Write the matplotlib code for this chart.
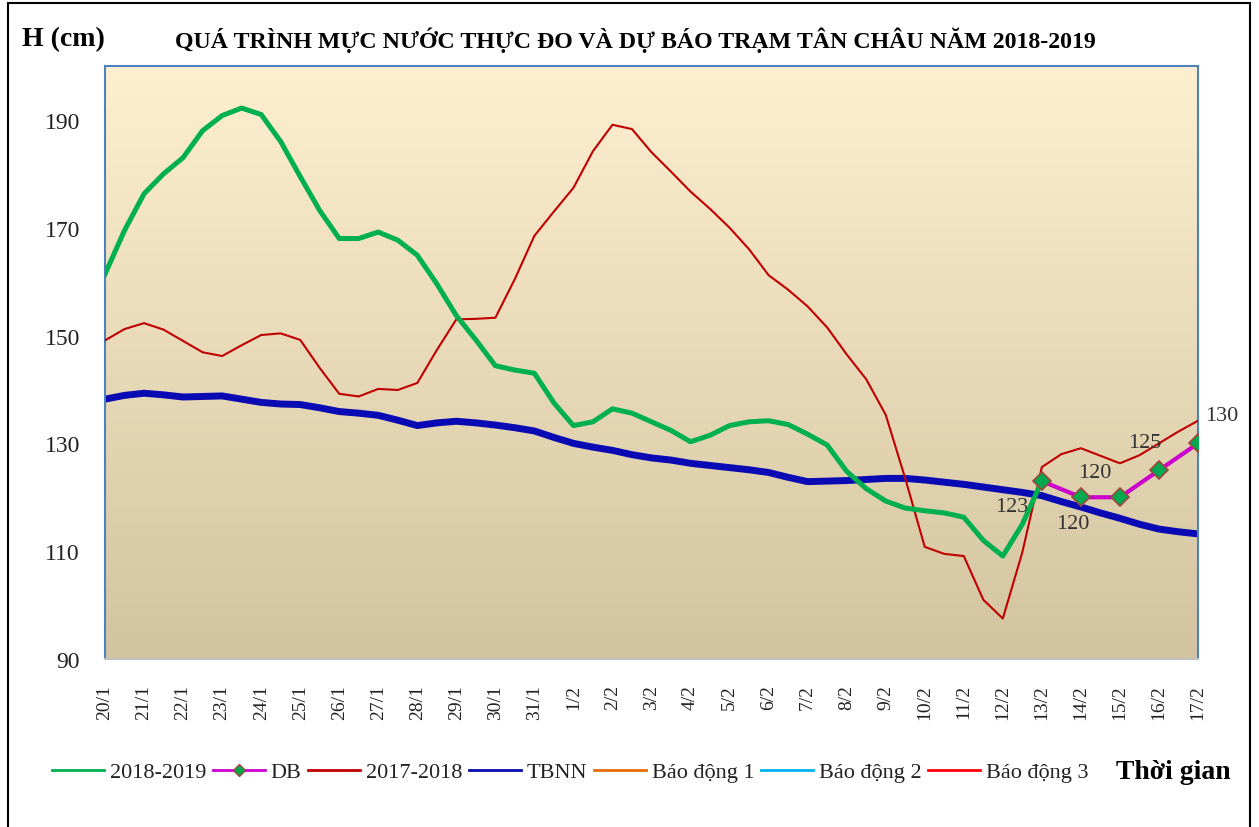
import numpy as np
import matplotlib
matplotlib.use('Agg')
from matplotlib import pyplot as plt
from matplotlib.patches import Rectangle
from matplotlib.lines import Line2D

plt.rcParams['font.family'] = ['Liberation Serif', 'DejaVu Serif']

# tick labels (one per day)
days = ['20/1', '21/1', '22/1', '23/1', '24/1', '25/1', '26/1', '27/1', '28/1', '29/1',
        '30/1', '31/1', '1/2', '2/2', '3/2', '4/2', '5/2', '6/2', '7/2', '8/2',
        '9/2', '10/2', '11/2', '12/2', '13/2', '14/2', '15/2', '16/2', '17/2']

# water levels read twice per day (cm)
h_2018_2019 = [161.4, 169.5, 176.3, 180.0, 183.0, 188.0, 190.8, 192.2, 191.0, 186.0,
               179.5, 173.2, 168.0, 168.0, 169.2, 167.7, 164.9, 159.6, 153.7, 149.2,
               144.4, 143.6, 143.0, 137.5, 133.3, 134.0, 136.4, 135.6, 134.0, 132.4,
               130.3, 131.5, 133.3, 134.0, 134.2, 133.5, 131.7, 129.7, 124.8, 121.6,
               119.3, 118.0, 117.5, 117.1, 116.3, 112.0, 109.1, 115.0, 123.0]

h_2017_2018 = [149.1, 151.2, 152.3, 151.1, 149.0, 146.9, 146.2, 148.2, 150.1, 150.4,
               149.2, 144.0, 139.2, 138.7, 140.1, 139.9, 141.2, 147.3, 153.0, 153.1,
               153.3, 160.5, 168.5, 173.0, 177.4, 184.2, 189.1, 188.3, 184.0, 180.4,
               176.7, 173.5, 170.0, 166.0, 161.2, 158.5, 155.4, 151.5, 146.5, 141.9,
               135.3, 123.5, 110.8, 109.5, 109.1, 101.0, 97.5, 109.8, 125.6, 128.0,
               129.1, 127.7, 126.3, 127.8, 130.0, 132.2, 134.2]

h_tbnn = [138.2, 138.9, 139.3, 139.0, 138.6, 138.7, 138.8, 138.2, 137.6, 137.3,
          137.2, 136.6, 135.9, 135.6, 135.2, 134.3, 133.3, 133.8, 134.1, 133.8,
          133.4, 132.9, 132.3, 131.1, 130.0, 129.3, 128.7, 127.9, 127.3, 126.9,
          126.3, 125.9, 125.5, 125.1, 124.6, 123.7, 122.9, 123.0, 123.1, 123.3,
          123.5, 123.5, 123.2, 122.8, 122.4, 121.9, 121.4, 120.9, 120.3, 119.2,
          118.2, 117.1, 116.1, 115.0, 114.1, 113.6, 113.2]

# forecast (DB), one per day from 13/2
db_days = [24, 25, 26, 27, 28]
db_values = [123, 120, 120, 125, 130]

x_obs = np.arange(len(h_2018_2019)) / 2
x_prev = np.arange(len(h_2017_2018)) / 2
x_tbnn = np.arange(len(h_tbnn)) / 2

fig = plt.figure(figsize=(12.59, 8.28), dpi=100)
ax = fig.add_axes([105/1259, 1 - 660/828, (1198-105)/1259, (660-67)/828])

# gradient background of plot area
grad = np.linspace(0, 1, 256).reshape(-1, 1)
top = np.array([253, 239, 208]) / 255
bot = np.array([211, 196, 160]) / 255
img = top + (bot - top) * grad[:, :, None]
ax.imshow(img, extent=[0, 28, 90, 200], aspect='auto', origin='upper', zorder=0)

c_obs, c_db, c_prev, c_tbnn = '#00B050', '#CC00CC', '#C00000', '#0A0AB4'
ax.plot(x_obs, h_2018_2019, color=c_obs, lw=3.6, zorder=4, solid_joinstyle='round')
ax.plot(x_prev, h_2017_2018, color=c_prev, lw=1.5, zorder=3, solid_joinstyle='round')
ax.plot(x_tbnn, h_tbnn, color=c_tbnn, lw=5, zorder=2, solid_joinstyle='round')
ax.plot(db_days, db_values, color=c_db, lw=3, marker='D', ms=9,
        mfc='#00A84F', mec='#A0463C', mew=1.2, zorder=5, solid_joinstyle='round')

# data labels for forecast
offsets = [(-22, -18), (-6, -19), (-18, 18), (-10, 20), (17, 20)]
for d, v, off in zip(db_days, db_values, offsets):
    ax.annotate(str(v), (d, v), xytext=off, textcoords='offset points',
                ha='center', va='center', fontsize=16, color='#333333',
                annotation_clip=False)

ax.set_xlim(0, 28)
ax.set_ylim(90, 200)
ax.set_yticks(range(90, 200, 20))
ax.set_xticks(range(len(days)))
ax.set_xticklabels(days, rotation=90)
ax.tick_params(axis='y', length=0, pad=18, labelsize=17, colors='#222222')
ax.tick_params(axis='x', length=0, pad=18, labelsize=14, colors='#222222')
for s in ['left', 'top', 'right']:
    ax.spines[s].set_color('#4F81BD')
    ax.spines[s].set_linewidth(1.5)
ax.spines['bottom'].set_color('#BFBFBF')
ax.spines['bottom'].set_linewidth(1.5)

fig.text(22/1259, 1 - 40/828, 'H (cm)', fontsize=20, fontweight='bold', va='center')
fig.text(635/1259, 1 - 40/828,
         'QUÁ TRÌNH MỰC NƯỚC THỰC ĐO VÀ DỰ BÁO TRẠM TÂN CHÂU NĂM 2018-2019',
         fontsize=17.2, fontweight='bold', ha='center', va='center')
fig.text(1173/1259, 1 - 773/828, 'Thời gian', fontsize=20, fontweight='bold',
         ha='center', va='center')

handles = [
    Line2D([], [], color=c_obs, lw=2),
    Line2D([], [], color=c_db, lw=2, marker='D', ms=6, mfc='#00A84F', mec='#A0463C'),
    Line2D([], [], color=c_prev, lw=2),
    Line2D([], [], color=c_tbnn, lw=2),
    Line2D([], [], color='#E46C0A', lw=2),
    Line2D([], [], color='#00B0F0', lw=2),
    Line2D([], [], color='#FF0000', lw=2),
]
names = ['2018-2019', 'DB', '2017-2018', 'TBNN', 'Báo động 1', 'Báo động 2', 'Báo động 3']
fig.legend(handles, names, loc='center',
           bbox_to_anchor=(570/1259, 1 - 773/828), ncol=7, frameon=False,
           fontsize=16, handlelength=2.35, columnspacing=0.3, handletextpad=0.25,
           labelcolor='#222222')

# outer chart border
fig.add_artist(Rectangle((8/1259, -0.01), (1250-8)/1259, 1 - 4/828 + 0.01,
                         transform=fig.transFigure, fill=False, ec='black', lw=1.5))

fig.savefig('out.png', dpi=100)
